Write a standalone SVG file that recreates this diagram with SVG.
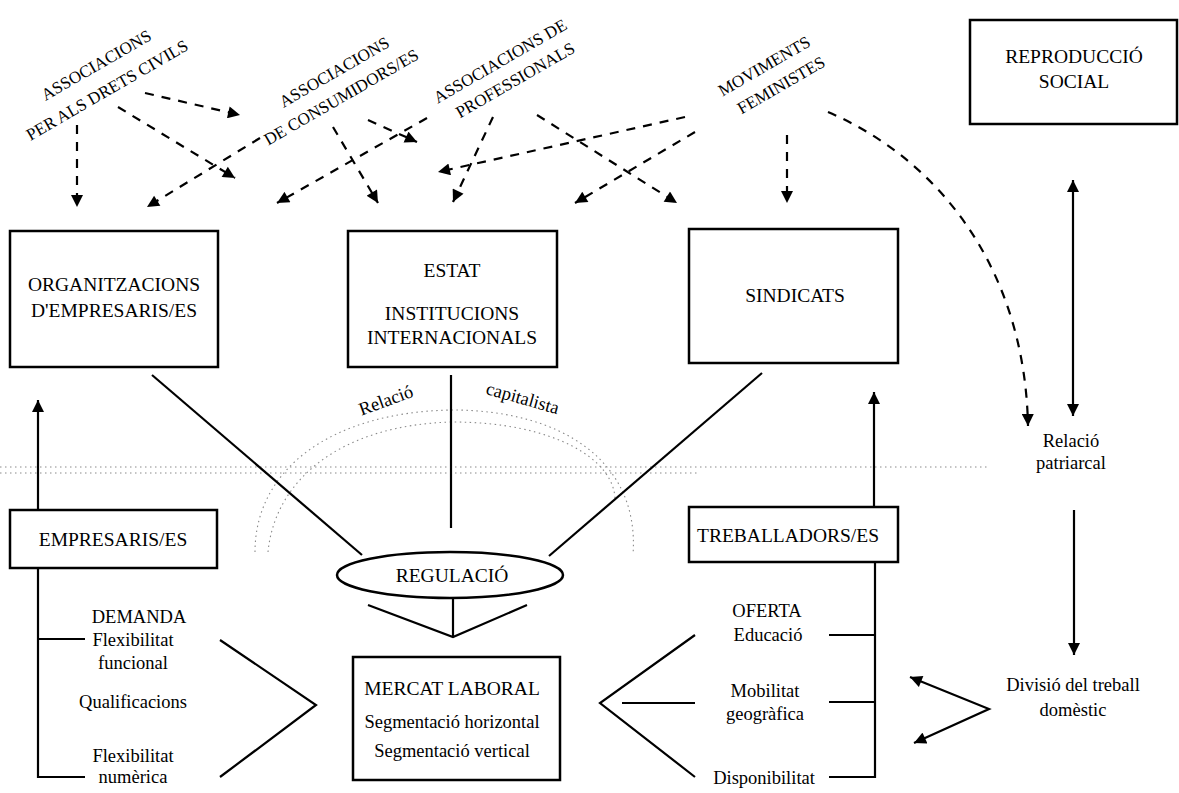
<svg xmlns="http://www.w3.org/2000/svg" width="1179" height="793" viewBox="0 0 1179 793">
<style>
  .box { fill: #fff; stroke: #000; stroke-width: 2.5; }
  .ln { fill: none; stroke: #000; stroke-width: 2.2; }
  .dash { fill: none; stroke: #000; stroke-width: 2.2; stroke-dasharray: 9 8; }
  .dot { fill: none; stroke: #8a8a8a; stroke-width: 1.1; stroke-dasharray: 1.5 3.5; }
  .t { font-family: "Liberation Serif", "Times New Roman", serif; fill: #000; text-anchor: middle; }
  .big { font-size: 19.5px; }
  .sm { font-size: 18.5px; }
  .rot { font-size: 17px; }
</style>
<defs>
  <marker id="ah" viewBox="0 0 10 10" refX="10" refY="5" markerWidth="13" markerHeight="12" markerUnits="userSpaceOnUse" orient="auto-start-reverse">
    <path d="M0,0 L10,5 L0,10 z" fill="#000"/>
  </marker>
</defs>
<rect width="1179" height="793" fill="#fff"/>

<g id="capitalist-arc">
  <path class="dot" d="M0,467 L990,467"/>
  <path class="dot" d="M0,473 L700,473"/>
  <path class="dot" d="M255,552 C255,470 330,412 452,410 C560,410 640,460 633,555"/>
  <path class="dot" d="M268,552 C275,480 340,425 452,422 C555,422 615,460 615,500"/>
  <text class="t sm" transform="translate(388,406) rotate(-20)">Relació</text>
  <text class="t sm" transform="translate(521,404) rotate(16)">capitalista</text>
</g>

<g id="connectors">
  <line class="dash" x1="77" y1="125" x2="77" y2="207" marker-end="url(#ah)"/>
  <line class="dash" x1="145" y1="93" x2="240" y2="115" marker-end="url(#ah)"/>
  <line class="dash" x1="118" y1="107" x2="235" y2="178" marker-end="url(#ah)"/>
  <line class="dash" x1="260" y1="138" x2="147" y2="207" marker-end="url(#ah)"/>
  <line class="dash" x1="333" y1="127" x2="378" y2="203" marker-end="url(#ah)"/>
  <line class="dash" x1="368" y1="120" x2="417" y2="142" marker-end="url(#ah)"/>
  <line class="dash" x1="427" y1="118" x2="277" y2="203" marker-end="url(#ah)"/>
  <line class="dash" x1="493" y1="117" x2="453" y2="202" marker-end="url(#ah)"/>
  <line class="dash" x1="537" y1="115" x2="677" y2="203" marker-end="url(#ah)"/>
  <line class="dash" x1="685" y1="117" x2="438" y2="172" marker-end="url(#ah)"/>
  <line class="dash" x1="695" y1="132" x2="575" y2="203" marker-end="url(#ah)"/>
  <line class="dash" x1="787" y1="135" x2="787" y2="203" marker-end="url(#ah)"/>
  <path class="dash" d="M828,112 C940,160 1025,270 1028,426" marker-end="url(#ah)"/>
  <line class="ln" x1="152" y1="375" x2="362" y2="555"/>
  <line class="ln" x1="451" y1="375" x2="451" y2="528"/>
  <line class="ln" x1="762" y1="373" x2="549" y2="556"/>
  <polyline class="ln" points="368,605 453,637 527,605"/>
  <line class="ln" x1="453" y1="598" x2="453" y2="637"/>
  <line class="ln" x1="38" y1="510" x2="38" y2="400" marker-end="url(#ah)"/>
  <polyline class="ln" points="85,639 38,639 38,568 38,777 85,777"/>
  <polyline class="ln" points="220,640 316,705 220,777"/>
  <line class="ln" x1="874" y1="507" x2="874" y2="392" marker-end="url(#ah)"/>
  <polyline class="ln" points="829,635 875,635 875,562 875,777 829,777"/>
  <line class="ln" x1="829" y1="702" x2="875" y2="702"/>
  <polyline class="ln" points="695,635 600,703 695,777"/>
  <line class="ln" x1="622" y1="703" x2="695" y2="703"/>
  <line class="ln" x1="1073" y1="180" x2="1073" y2="416" marker-start="url(#ah)" marker-end="url(#ah)"/>
  <line class="ln" x1="1074" y1="510" x2="1074" y2="655" marker-end="url(#ah)"/>
  <polyline class="ln" points="910,677 989,709 914,743" marker-start="url(#ah)" marker-end="url(#ah)"/>
</g>

<g id="assoc-drets-civils">
  <text class="t rot" transform="translate(99,70) rotate(-30)">ASSOCIACIONS</text>
  <text class="t rot" transform="translate(110,95) rotate(-30)">PER ALS DRETS CIVILS</text>
</g>
<g id="assoc-consumidors">
  <text class="t rot" transform="translate(337,77) rotate(-30)">ASSOCIACIONS</text>
  <text class="t rot" transform="translate(344,102) rotate(-30)">DE CONSUMIDORS/ES</text>
</g>
<g id="assoc-professionals">
  <text class="t rot" transform="translate(503,66) rotate(-30)">ASSOCIACIONS DE</text>
  <text class="t rot" transform="translate(518,85) rotate(-30)">PROFESSIONALS</text>
</g>
<g id="moviments-feministes">
  <text class="t rot" transform="translate(767,71) rotate(-30)">MOVIMENTS</text>
  <text class="t rot" transform="translate(784,90) rotate(-30)">FEMINISTES</text>
</g>

<g id="reproduccio-social">
  <rect class="box" x="970" y="20" width="207" height="104"/>
  <text class="t big" x="1074" y="63">REPRODUCCIÓ</text>
  <text class="t big" x="1074" y="88">SOCIAL</text>
</g>

<g id="organitzacions">
  <rect class="box" x="10" y="231" width="208" height="136"/>
  <text class="t big" x="114" y="291">ORGANITZACIONS</text>
  <text class="t big" x="114" y="317">D'EMPRESARIS/ES</text>
</g>

<g id="estat">
  <rect class="box" x="348" y="231" width="209" height="136"/>
  <text class="t big" x="452" y="277">ESTAT</text>
  <text class="t big" x="452" y="320">INSTITUCIONS</text>
  <text class="t big" x="452" y="344">INTERNACIONALS</text>
</g>

<g id="sindicats">
  <rect class="box" x="689" y="229" width="209" height="134"/>
  <text class="t big" x="795" y="302">SINDICATS</text>
</g>

<g id="relacio-patriarcal">
  <text class="t sm" x="1071" y="447">Relació</text>
  <text class="t sm" x="1071" y="469">patriarcal</text>
</g>

<g id="empresaris">
  <rect class="box" x="10" y="510" width="207" height="58"/>
  <text class="t big" x="113" y="546">EMPRESARIS/ES</text>
</g>

<g id="treballadors">
  <rect class="box" x="689" y="507" width="209" height="55"/>
  <text class="t big" x="788" y="542">TREBALLADORS/ES</text>
</g>

<g id="regulacio">
  <ellipse class="box" cx="450" cy="575" rx="113" ry="23"/>
  <text class="t big" x="452" y="582">REGULACIÓ</text>
</g>

<g id="demanda">
  <text class="t sm" x="139" y="623">DEMANDA</text>
  <text class="t sm" x="133" y="646">Flexibilitat</text>
  <text class="t sm" x="133" y="669">funcional</text>
  <text class="t sm" x="133" y="708">Qualificacions</text>
  <text class="t sm" x="133" y="762">Flexibilitat</text>
  <text class="t sm" x="133" y="783">numèrica</text>
</g>

<g id="mercat-laboral">
  <rect class="box" x="353" y="657" width="207" height="123"/>
  <text class="t big" x="452" y="695">MERCAT LABORAL</text>
  <text class="t sm" x="452" y="728">Segmentació horizontal</text>
  <text class="t sm" x="452" y="757">Segmentació vertical</text>
</g>

<g id="oferta">
  <text class="t sm" x="767" y="617">OFERTA</text>
  <text class="t sm" x="768" y="641">Educació</text>
  <text class="t sm" x="765" y="697">Mobilitat</text>
  <text class="t sm" x="765" y="720">geogràfica</text>
  <text class="t sm" x="764" y="784">Disponibilitat</text>
</g>

<g id="divisio-treball">
  <text class="t sm" x="1073" y="691">Divisió del treball</text>
  <text class="t sm" x="1073" y="716">domèstic</text>
</g>
</svg>
